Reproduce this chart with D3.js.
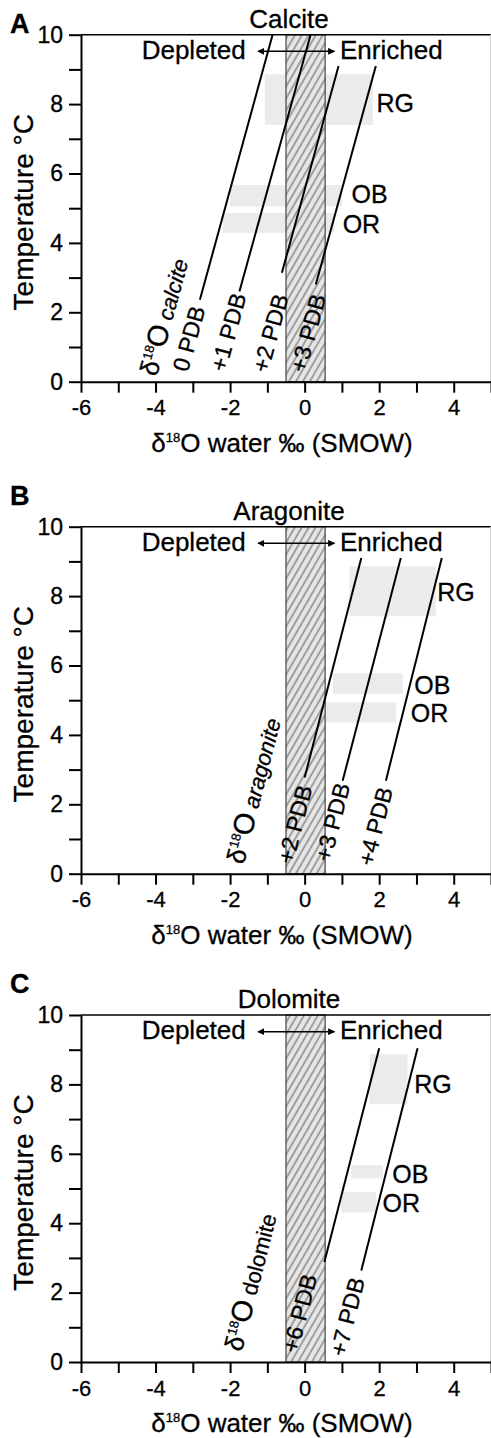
<!DOCTYPE html>
<html>
<head>
<meta charset="utf-8">
<script src="https://cdn.jsdelivr.net/npm/d3@7"></script>
<style>
body { margin: 0; background: #fff; }
text { font-family: "Liberation Sans", Arial, Helvetica, sans-serif; fill: #000; stroke: #000; stroke-width: 0.3px; }
</style>
</head>
<body>
<script>
// ---- data ----
var minerals = ["Calcite", "Aragonite", "Dolomite"];
var mineralWords = ["calcite", "aragonite", "dolomite"];
var panelTags = ["A", "B", "C"];

var xTicks = [-6, -5, -4, -3, -2, -1, 0, 1, 2, 3, 4, 5];
var xTickLabels = [-6, -4, -2, 0, 2, 4];
var yTicks = [0, 1, 2, 3, 4, 5, 6, 7, 8, 9, 10];
var yTickLabels = [0, 2, 4, 6, 8, 10];

// modern seawater range (hatched), d18O water
var seawater = [-0.5, 0.55];

// iso-d18O lines: [label, water at top, T top, water at bottom, T bottom]
var calciteLines = [
  ["0 PDB", -0.86, 10, -2.81, 2.36],
  ["+1 PDB", 0.16, 10, -1.75, 2.6],
  ["+2 PDB", 0.91, 9.1, -0.61, 3.14],
  ["+3 PDB", 1.91, 9.1, 0.30, 2.8]
];
var aragoniteLines = [
  ["+2 PDB", 1.52, 9.1, 0.0, 2.77],
  ["+3 PDB", 2.58, 9.1, 1.02, 2.68],
  ["+4 PDB", 3.68, 9.1, 2.18, 2.68]
];
var dolomiteLines = [
  ["+6 PDB", 2.0, 9.04, 0.53, 2.88],
  ["+7 PDB", 3.03, 9.04, 1.52, 2.64]
];

// where each line label starts (water, T)
var calciteLabelAt = [[-3.34, 0.32], [-2.33, 0.32], [-1.2, 0.29], [-0.19, 0.29]];
var aragoniteLabelAt = [[-0.53, 0.31], [0.48, 0.37], [1.63, 0.25]];
var dolomiteLabelAt = [[-0.4, 0.29], [0.88, 0.19]];
var mineralLabelAt = [[-4.2, 0.2], [-1.87, 0.31], [-1.92, 0.34]];

// temperature ranges of the sites: [site, water from, water to, T low, T high]
var sites = ["RG", "OB", "OR"];
var calciteBands = [["RG", -1.07, 1.83, 7.40, 8.86], ["OB", -2.0, 1.0, 5.05, 5.67], ["OR", -2.2, 0.8, 4.29, 4.86]];
var aragoniteBands = [["RG", 1.2, 3.52, 7.42, 8.86], ["OB", 0.76, 2.63, 5.18, 5.78], ["OR", 0.53, 2.45, 4.36, 4.94]];
var dolomiteBands = [["RG", 1.74, 2.76, 7.43, 8.87], ["OB", 1.25, 2.1, 5.29, 5.67], ["OR", 0.98, 1.92, 4.31, 4.9]];
var calciteSiteAt = [[1.93, 7.78], [1.26, 5.16], [1.02, 4.29]];
var aragoniteSiteAt = [[3.56, 7.86], [2.94, 5.19], [2.85, 4.38]];
var dolomiteSiteAt = [[2.94, 7.74], [2.35, 5.15], [2.09, 4.33]];

var allLines = [calciteLines, aragoniteLines, dolomiteLines];
var allLabelAt = [calciteLabelAt, aragoniteLabelAt, dolomiteLabelAt];
var allBands = [calciteBands, aragoniteBands, dolomiteBands];
var allSiteAt = [calciteSiteAt, aragoniteSiteAt, dolomiteSiteAt];

// ---- drawing ----
var W = 491, H = 1438;
var panelTop = [34.7, 526.7, 1015];
var plotH = 347;

var svg = d3.select("body").append("svg")
  .attr("width", W).attr("height", H);

var defs = svg.append("defs");
var pat = defs.append("pattern").attr("id", "hatch")
  .attr("patternUnits", "userSpaceOnUse")
  .attr("width", 6).attr("height", 6)
  .attr("patternTransform", "rotate(30)");
pat.append("rect").attr("width", 6).attr("height", 6).attr("fill", "#e6e6e6");
pat.append("line").attr("x1", 3).attr("y1", 0).attr("x2", 3).attr("y2", 6)
  .attr("stroke", "#4a4a4a").attr("stroke-width", 0.9);

defs.append("marker").attr("id", "head")
  .attr("viewBox", "0 0 10 10").attr("refX", 9).attr("refY", 5)
  .attr("markerWidth", 7).attr("markerHeight", 7)
  .attr("markerUnits", "userSpaceOnUse")
  .attr("orient", "auto-start-reverse")
  .append("path").attr("d", "M0,0L10,5L0,10Z").attr("fill", "#000");

minerals.forEach(function(name, i) {
  var top = panelTop[i];
  var x = d3.scaleLinear().domain([-6, 5]).range([81, 491]);
  var y = d3.scaleLinear().domain([0, 10]).range([top + plotH, top]);
  var g = svg.append("g");

  // site bands
  g.selectAll("rect.band").data(allBands[i]).enter().append("rect")
    .attr("class", "band")
    .attr("x", function(d) { return x(d[1]); })
    .attr("width", function(d) { return x(d[2]) - x(d[1]); })
    .attr("y", function(d) { return y(d[4]); })
    .attr("height", function(d) { return y(d[3]) - y(d[4]); })
    .attr("fill", "#ebebeb");

  // seawater hatched band
  g.append("rect")
    .attr("x", x(seawater[0])).attr("width", x(seawater[1]) - x(seawater[0]))
    .attr("y", y(10)).attr("height", y(0) - y(10))
    .attr("fill", "url(#hatch)").attr("stroke", "#444").attr("stroke-width", 1.2);

  // iso lines
  g.selectAll("line.iso").data(allLines[i]).enter().append("line")
    .attr("class", "iso")
    .attr("x1", function(d) { return x(d[1]); }).attr("y1", function(d) { return y(d[2]); })
    .attr("x2", function(d) { return x(d[3]); }).attr("y2", function(d) { return y(d[4]); })
    .attr("stroke", "#000").attr("stroke-width", 2);

  // label angle follows the lines
  var l0 = allLines[i][0];
  var ang = Math.atan2(y(l0[2]) - y(l0[4]), x(l0[1]) - x(l0[3])) * 180 / Math.PI;

  allLines[i].forEach(function(d, j) {
    var p = allLabelAt[i][j];
    g.append("text")
      .attr("transform", "translate(" + x(p[0]) + "," + y(p[1]) + ") rotate(" + ang + ")")
      .attr("dy", 8)
      .style("font-size", "23px")
      .text(d[0]);
  });

  var m = mineralLabelAt[i];
  var mt = g.append("text")
    .attr("transform", "translate(" + x(m[0]) + "," + y(m[1]) + ") rotate(" + ang + ")")
    .attr("dy", 9);
  mt.append("tspan").style("font-size", "26px").text("δ");
  mt.append("tspan").style("font-size", "13px").attr("dy", -10).text("18");
  mt.append("tspan").style("font-size", "29px").attr("dy", 10).text("O");
  mt.append("tspan").style("font-size", "22px")
    .style("font-style", i === 2 ? "normal" : "italic")
    .text(" " + mineralWords[i]);

  // site labels
  g.selectAll("text.site").data(sites).enter().append("text")
    .attr("class", "site")
    .attr("x", function(d, j) { return x(allSiteAt[i][j][0]); })
    .attr("y", function(d, j) { return y(allSiteAt[i][j][1]); })
    .style("font-size", "25px")
    .text(function(d) { return d; });

  // depleted / enriched arrow
  g.append("line")
    .attr("x1", x(-1.25)).attr("x2", x(0.8))
    .attr("y1", y(9.52)).attr("y2", y(9.52))
    .attr("stroke", "#000").attr("stroke-width", 1.5)
    .attr("marker-start", "url(#head)").attr("marker-end", "url(#head)");
  g.append("text").attr("x", x(-1.58)).attr("y", y(9.3))
    .attr("text-anchor", "end").style("font-size", "26px").text("Depleted");
  g.append("text").attr("x", x(0.95)).attr("y", y(9.3))
    .style("font-size", "26px").text("Enriched");

  // frame top and right edge
  g.append("line").attr("x1", x(-6)).attr("x2", W)
    .attr("y1", y(10)).attr("y2", y(10))
    .attr("stroke", "#000").attr("stroke-width", 1.5);
  g.append("line").attr("x1", 490.5).attr("x2", 490.5)
    .attr("y1", y(10)).attr("y2", y(0))
    .attr("stroke", "#cfcfcf").attr("stroke-width", 1);

  // axes
  var xAxis = d3.axisBottom(x).tickValues(xTicks).tickSize(11).tickSizeOuter(0).tickPadding(7)
    .tickFormat(function(d) { return xTickLabels.indexOf(d) >= 0 ? d : ""; });
  var gx = g.append("g").attr("transform", "translate(0," + y(0) + ")").call(xAxis);
  gx.selectAll("text").style("font-size", "22px").attr("font-family", null);
  gx.selectAll("line, path").attr("stroke", "#000").attr("stroke-width", 2);

  var yAxis = d3.axisLeft(y).tickValues(yTicks).tickSize(12).tickSizeOuter(0).tickPadding(6)
    .tickFormat(function(d) { return yTickLabels.indexOf(d) >= 0 ? d : ""; });
  var gy = g.append("g").attr("transform", "translate(" + x(-6) + ",0)").call(yAxis);
  gy.selectAll("text").style("font-size", "23px").attr("font-family", null);
  gy.selectAll("line, path").attr("stroke", "#000").attr("stroke-width", 2);

  // titles
  g.append("text").attr("x", 289).attr("y", top - 7)
    .attr("text-anchor", "middle").style("font-size", "26px").text(name);
  g.append("text").attr("x", 10).attr("y", top + (i === 0 ? -1.5 : -22))
    .style("font-size", "27px").style("font-weight", "bold").text(panelTags[i]);

  g.append("text")
    .attr("transform", "translate(33," + (top + plotH / 2 + 4) + ") rotate(-90)")
    .attr("text-anchor", "middle").style("font-size", "28px")
    .text("Temperature °C");

  var xt = g.append("text").attr("x", 282).attr("y", y(0) + 70)
    .attr("text-anchor", "middle").style("font-size", "26px");
  xt.append("tspan").text("δ");
  xt.append("tspan").style("font-size", "13px").attr("dy", -10).text("18");
  xt.append("tspan").attr("dy", 10).text("O water ‰ (SMOW)");
});
</script>
</body>
</html>
